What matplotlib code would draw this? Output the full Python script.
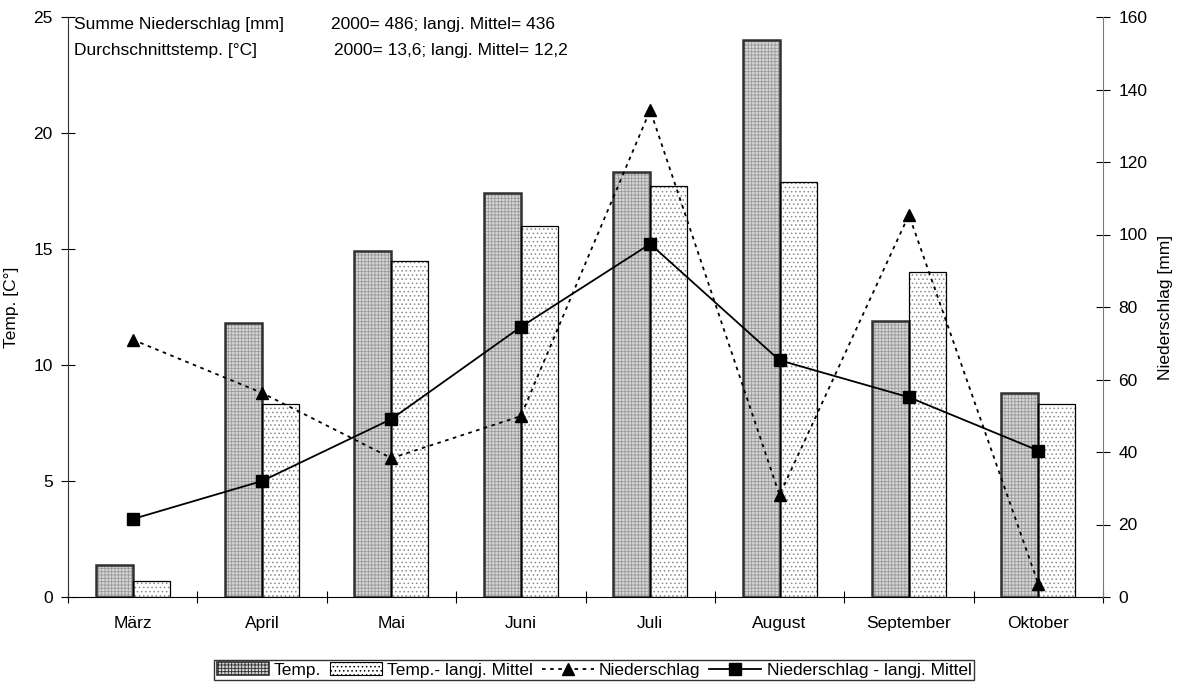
import matplotlib
matplotlib.use("Agg")
import matplotlib.pyplot as plt
from matplotlib.patches import Patch
import numpy as np

plt.rcParams['font.family'] = ['Liberation Sans', 'DejaVu Sans']
plt.rcParams['hatch.linewidth'] = 0.6

months = ["März", "April", "Mai", "Juni", "Juli", "August", "September", "Oktober"]
temp_2000 = [1.4, 11.8, 14.9, 17.4, 18.3, 24.0, 11.9, 8.8]
temp_mittel = [0.7, 8.3, 14.5, 16.0, 17.7, 17.9, 14.0, 8.3]
nied_2000 = [71, 56.3, 38.3, 49.9, 134.3, 28.1, 105.4, 3.6]
nied_mittel = [21.5, 32.0, 49.1, 74.5, 97.4, 65.3, 55.1, 40.4]

FS = 12.5
W, H = 1177, 689
fig = plt.figure(figsize=(W / 100, H / 100), dpi=100)
ax = fig.add_axes([68 / W, (H - 597) / H, (1103 - 68) / W, (597 - 17) / H])
ax2 = ax.twinx()

x = np.arange(len(months))
bw = 0.286

# Temperature bars: textured fill, then outline on top
ax.bar(x - bw / 2, temp_2000, bw, color='#d6d6d6', edgecolor='#9a9a9a',
       hatch='+++++', linewidth=0, zorder=2)
ax.bar(x - bw / 2, temp_2000, bw, fill=False, edgecolor='#303030',
       linewidth=1.8, zorder=3)
ax.bar(x + bw / 2, temp_mittel, bw, color='white', edgecolor='#8a8a8a',
       hatch='....', linewidth=0, zorder=2)
ax.bar(x + bw / 2, temp_mittel, bw, fill=False, edgecolor='black',
       linewidth=0.9, zorder=3)

ax.set_xlim(-0.5, len(months) - 0.5)
ax.set_ylim(0, 25)
ax.set_yticks(np.arange(0, 26, 5))
ax.set_xticks(np.arange(-0.5, len(months), 1))
ax.set_xticklabels([])
ax.set_xticks(x, minor=True)
ax.set_xticklabels(months, minor=True)
ax.tick_params(axis='x', which='major', direction='inout', length=8, width=0.8)
ax.tick_params(axis='x', which='minor', length=0, pad=14, labelsize=FS)
ax.tick_params(axis='y', direction='inout', length=10, width=0.8, labelsize=FS, pad=6)
ax.set_ylabel("Temp. [C°]", fontsize=FS, labelpad=10)

ax.spines['top'].set_visible(False)
ax2.spines['top'].set_visible(False)
ax.spines['right'].set_visible(False)
ax2.spines['left'].set_visible(False)
ax2.spines['bottom'].set_visible(False)
ax2.spines['right'].set_color('#7a7a7a')
ax.spines['left'].set_color('#303030')

ax2.set_zorder(ax.get_zorder() + 1)
ax2.patch.set_visible(False)
ax2.plot(x, nied_2000, color='black', linestyle=(0, (2, 2.5)), linewidth=1.3,
         marker='^', markersize=8, label='Niederschlag', zorder=5)
ax2.plot(x, nied_mittel, color='black', linestyle='-', linewidth=1.3,
         marker='s', markersize=8, label='Niederschlag - langj. Mittel', zorder=5)
ax2.set_ylim(0, 160)
ax2.set_yticks(np.arange(0, 161, 20))
ax2.tick_params(axis='y', direction='inout', length=10, width=0.8, labelsize=FS, pad=6)
ax2.set_ylabel("Niederschlag [mm]", fontsize=FS, labelpad=8)

# Summary text block
fig.text(74 / W, 1 - 25 / H, "Summe Niederschlag [mm]", fontsize=FS, va='center')
fig.text(331 / W, 1 - 25 / H, "2000= 486; langj. Mittel= 436", fontsize=FS, va='center')
fig.text(74 / W, 1 - 50 / H, "Durchschnittstemp. [°C]", fontsize=FS, va='center')
fig.text(334 / W, 1 - 50 / H, "2000= 13,6; langj. Mittel= 12,2", fontsize=FS, va='center')

# Legend
h_temp = Patch(facecolor='#d6d6d6', edgecolor='#303030', hatch='+++++', linewidth=1.2)
h_mit = Patch(facecolor='white', edgecolor='black', hatch='....', linewidth=0.8)
lines = ax2.get_lines()
leg = fig.legend([h_temp, h_mit, lines[0], lines[1]],
                 ["Temp.", "Temp.- langj. Mittel", "Niederschlag", "Niederschlag - langj. Mittel"],
                 loc='center', bbox_to_anchor=(594 / W, 1 - 670 / H), ncol=4,
                 frameon=True, fancybox=False, edgecolor='black', fontsize=FS,
                 handlelength=3.0, handleheight=0.7, handletextpad=0.3,
                 columnspacing=0.5, borderpad=0.15, borderaxespad=0)
leg.get_frame().set_linewidth(1.0)

fig.savefig("out.png", dpi=100)
